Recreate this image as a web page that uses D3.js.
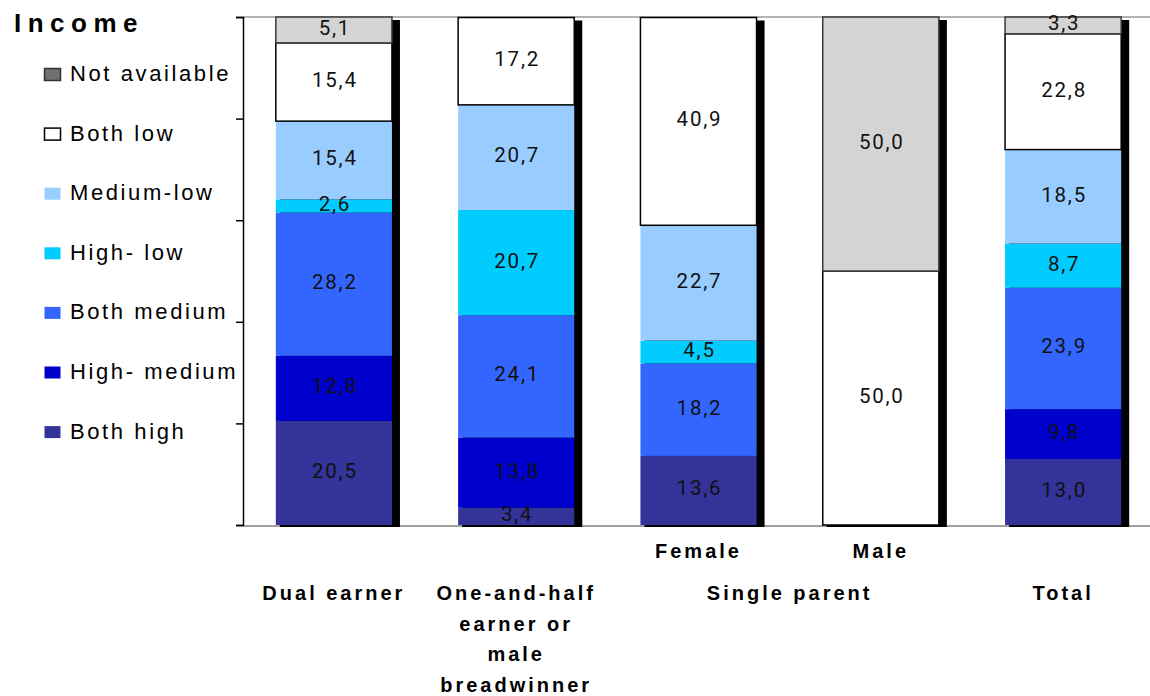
<!DOCTYPE html>
<html>
<head>
<meta charset="utf-8">
<script src="https://cdn.jsdelivr.net/npm/d3@7"></script>
<style>
  html, body { margin: 0; padding: 0; background: #fff; }
  svg { display: block; }
  .legend text { font-family: "Liberation Sans", Arial, sans-serif; font-size: 22px; letter-spacing: 2.6px; fill: #000; }
  .title { font-family: "Liberation Sans", Arial, sans-serif; font-weight: bold; font-size: 26px; letter-spacing: 6.5px; fill: #000; }
  .cat { font-family: "Liberation Sans", Arial, sans-serif; font-weight: bold; font-size: 20px; letter-spacing: 3px; fill: #000; }
  .val { font-family: Roboto, "DejaVu Sans Condensed", sans-serif; font-size: 20.5px; letter-spacing: 1.8px; fill: #111; }
</style>
</head>
<body>
<svg id="chart" width="1150" height="696"></svg>
<script>
// Household types (columns) and income combinations (stack segments, bottom to top)
const categories = ["Dual earner", "One-and-half earner or male breadwinner", "Female", "Male", "Total"];
const incomeKeys = ["Both high", "High- medium", "Both medium", "High- low", "Medium-low", "Both low", "Not available"];

// Percentages per household type, in the order of incomeKeys
const dualEarner     = [20.5, 12.8, 28.2,  2.6, 15.4, 15.4,  5.1];
const oneAndHalf     = [ 3.4, 13.8, 24.1, 20.7, 20.7, 17.2,  0.0];
const singleFemale   = [13.6,  0.0, 18.2,  4.5, 22.7, 40.9,  0.0];
const singleMale     = [ 0.0,  0.0,  0.0,  0.0,  0.0, 50.0, 50.0];
const total          = [13.0,  9.8, 23.9,  8.7, 18.5, 22.8,  3.3];
const seriesValues = [dualEarner, oneAndHalf, singleFemale, singleMale, total];

// Axis labels under the columns
const categoryLines = [["Dual earner"], ["One-and-half", "earner or", "male", "breadwinner"], [], [], ["Total"]];
const subLabels = [null, null, "Female", "Male", null];
const groupLabel = { text: "Single parent", from: 2, to: 3 };
const yTicks = [0, 20, 40, 60, 80, 100];

const fills = {
  "Both high": "#333399",
  "High- medium": "#0000cc",
  "Both medium": "#3366ff",
  "High- low": "#00ccff",
  "Medium-low": "#99ccff",
  "Both low": "#ffffff",
  "Not available": "#d4d4d4"
};
const strokes = { "Both low": "#000", "Not available": "#3a3a3a" };
const legendFills = Object.assign({}, fills, { "Not available": "#707070" });

const svg = d3.select("#chart");

const x = d3.scaleBand().domain(categories).range([243, 1154]).paddingInner(0.363).paddingOuter(0.18);
const y = d3.scaleLinear().domain([0, 100]).range([525, 17]);

// table rows for the stack
const rows = categories.map((c, i) => {
  const r = { category: c };
  incomeKeys.forEach((k, j) => r[k] = seriesValues[i][j]);
  return r;
});
const stacked = d3.stack().keys(incomeKeys)(rows);

// frame lines: top border and baseline
svg.append("line").attr("x1", 243).attr("x2", 1150).attr("y1", y(100)).attr("y2", y(100))
  .attr("stroke", "#9a9a9a").attr("stroke-width", 1.5);
svg.append("line").attr("x1", 243).attr("x2", 1150).attr("y1", y(0) + 1).attr("y2", y(0) + 1)
  .attr("stroke", "#a0a0a0").attr("stroke-width", 2);

// drop shadows behind each column
const colTop = categories.map((c, i) => d3.sum(seriesValues[i]));
svg.append("g").selectAll("rect").data(categories).join("rect")
  .attr("x", d => x(d) + 4)
  .attr("width", x.bandwidth() + 4)
  .attr("y", (d, i) => y(Math.min(100, colTop[i])) + 3)
  .attr("height", (d, i) => y(0) + 2 - (y(Math.min(100, colTop[i])) + 3))
  .attr("fill", "#000");

// stacked segments
const layer = svg.append("g").selectAll("g").data(stacked).join("g")
  .attr("fill", d => fills[d.key]);
layer.selectAll("rect").data(d => d.map(p => ({ key: d.key, p })).filter(o => o.p[1] - o.p[0] > 0))
  .join("rect")
  .attr("x", o => x(o.p.data.category))
  .attr("width", x.bandwidth())
  .attr("y", o => y(o.p[1]))
  .attr("height", o => y(o.p[0]) - y(o.p[1]))
  .attr("stroke", o => strokes[o.key] || "none")
  .attr("stroke-width", o => strokes[o.key] ? 1.5 : 0);

// value labels
const fmt = v => d3.format(".1f")(v).replace(".", ",");
const labels = [];
stacked.forEach(s => s.forEach(p => {
  const v = p[1] - p[0];
  if (v > 0) labels.push({ v, cx: x(p.data.category) + x.bandwidth() / 2, cy: (y(p[0]) + y(p[1])) / 2 });
}));
svg.append("g").selectAll("text").data(labels).join("text")
  .attr("class", "val")
  .attr("x", d => d.cx + 1)
  .attr("y", d => d.cy + 5)
  .attr("text-anchor", "middle")
  .text(d => fmt(d.v));

// y axis: ticks only
const yAxis = d3.axisLeft(y).tickValues(yTicks).tickSize(7).tickFormat("");
const ga = svg.append("g").attr("transform", "translate(243,0)").call(yAxis);
ga.selectAll("path, line").attr("stroke", "#000").attr("stroke-width", 1.5);

// category labels
categoryLines.forEach((lines, i) => {
  const cx = x(categories[i]) + x.bandwidth() / 2;
  lines.forEach((t, j) => {
    svg.append("text").attr("class", "cat").attr("x", cx).attr("y", 600 + j * 30.5)
      .attr("text-anchor", "middle").text(t);
  });
  if (subLabels[i]) {
    svg.append("text").attr("class", "cat").attr("x", cx).attr("y", 558)
      .attr("text-anchor", "middle").text(subLabels[i]);
  }
});
const gx = (x(categories[groupLabel.from]) + x(categories[groupLabel.to]) + x.bandwidth()) / 2;
svg.append("text").attr("class", "cat").attr("x", gx).attr("y", 600)
  .attr("text-anchor", "middle").text(groupLabel.text);

// legend
svg.append("text").attr("class", "title").attr("x", 14).attr("y", 32).text("Income");
const legendOrder = incomeKeys.slice().reverse();
const lg = svg.append("g").attr("class", "legend").selectAll("g").data(legendOrder).join("g")
  .attr("transform", (d, i) => `translate(0,${81 + i * 59.6})`);
lg.append("rect")
  .attr("x", 44.5).attr("y", -12.5).attr("width", 16).attr("height", 12)
  .attr("fill", d => legendFills[d])
  .attr("stroke", d => d === "Not available" ? "#333" : d === "Both low" ? "#000" : "none")
  .attr("stroke-width", d => (d === "Not available" || d === "Both low") ? 1.5 : 0);
lg.append("text").attr("x", 70).attr("y", 0).text(d => d);
</script>
</body>
</html>
